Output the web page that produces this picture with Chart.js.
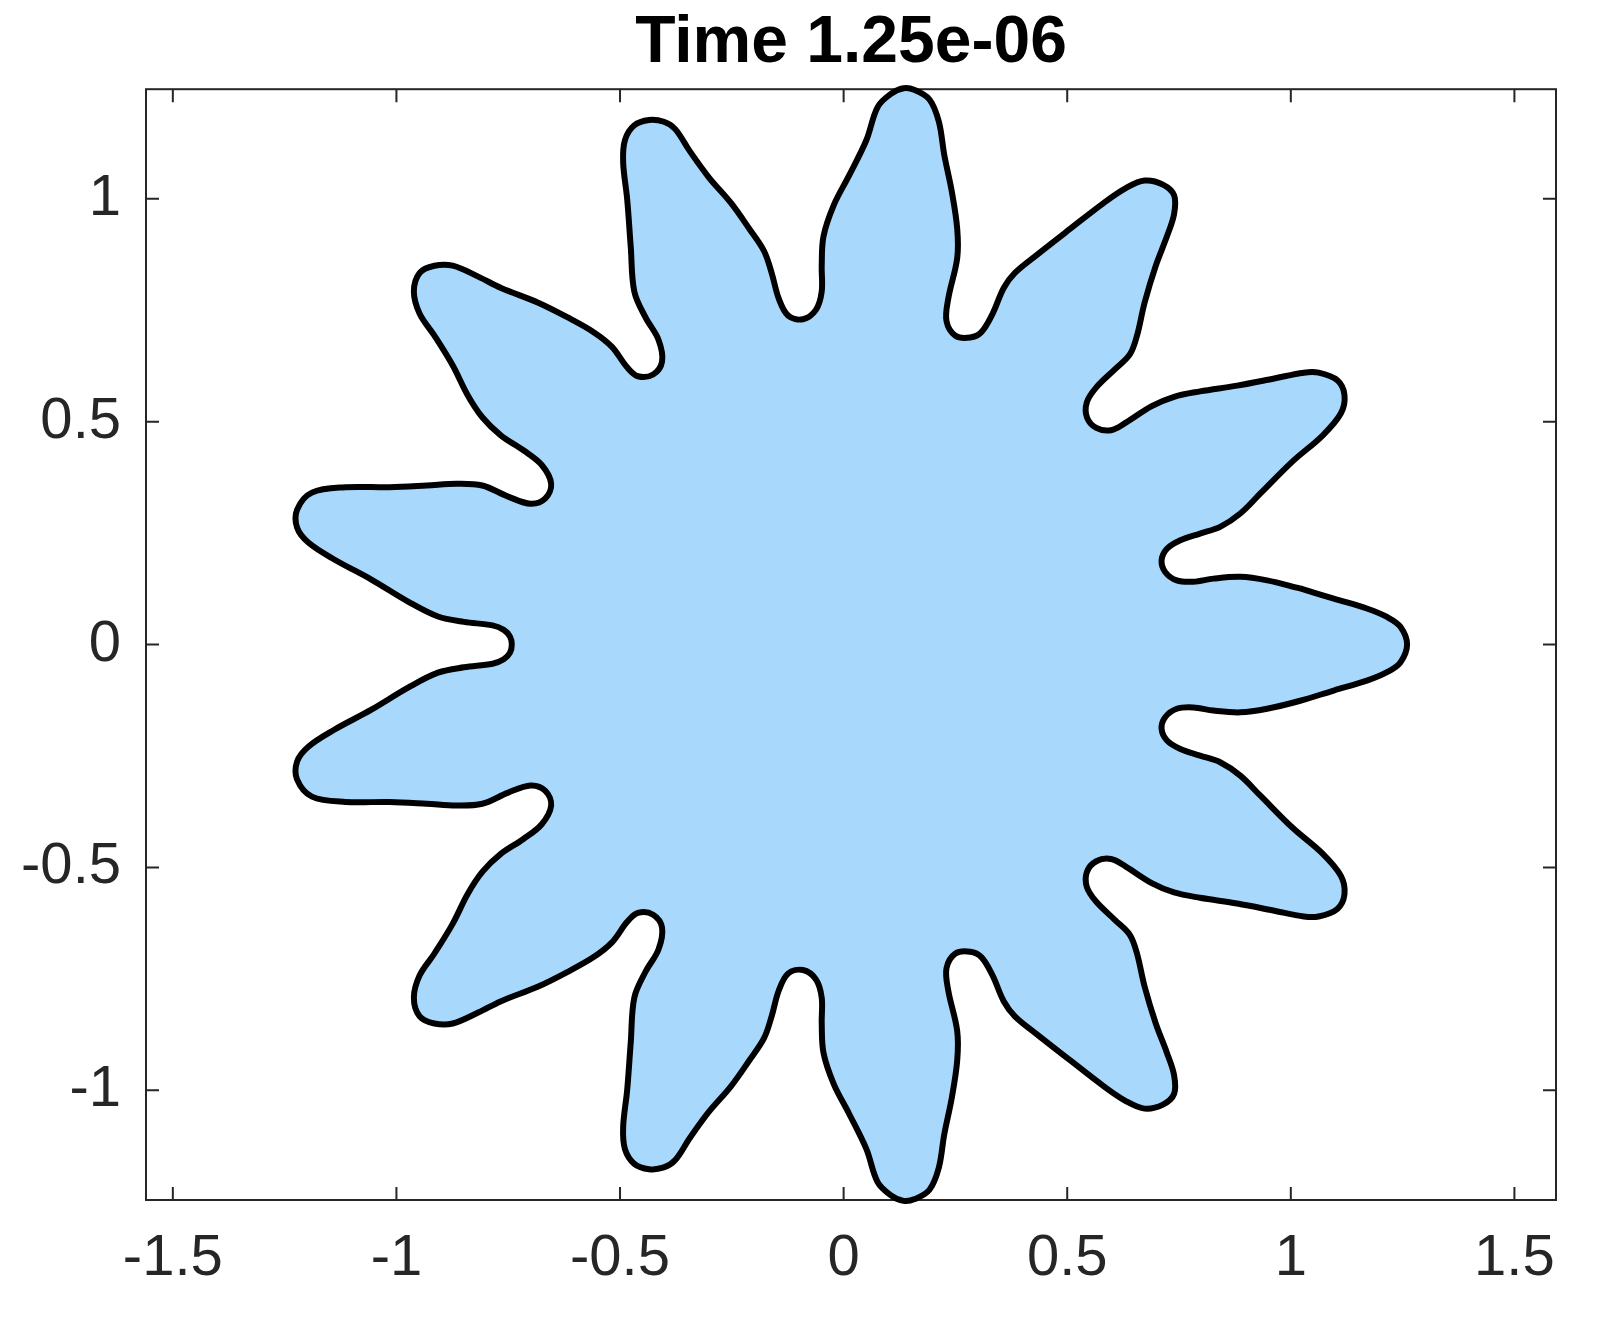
<!DOCTYPE html>
<html>
<head>
<meta charset="utf-8">
<title>Time 1.25e-06</title>
<script src="https://cdn.jsdelivr.net/npm/chart.js@4.4.1/dist/chart.umd.min.js"></script>
<style>
  html, body { margin: 0; padding: 0; background: #fff; }
  #wrap { width: 1604px; height: 1320px; position: relative; }
</style>
</head>
<body>
<div id="wrap"><canvas id="grafico"></canvas></div>
<script>
const titulo = 'Time 1.25e-06';
const xTicks = [-1.5, -1, -0.5, 0, 0.5, 1, 1.5];
const yTicks = [-1, -0.5, 0, 0.5, 1];
const xLimits = [-1.56, 1.593];
const yLimits = [-1.246, 1.246];

// contour, one array per arm (named by tip angle), counterclockwise
const arm0 = [[0.711,-0.189],[0.719,-0.163],[0.745,-0.144],[0.782,-0.141],[0.827,-0.148],[0.887,-0.152],[0.947,-0.144],[1.021,-0.126],[1.096,-0.103],[1.170,-0.081],[1.215,-0.062],[1.245,-0.040],[1.260,0.000],[1.245,0.040],[1.215,0.062],[1.170,0.081],[1.096,0.103],[1.021,0.126],[0.947,0.144],[0.887,0.152],[0.827,0.148],[0.782,0.141],[0.745,0.144],[0.719,0.163]];
const arm28 = [[0.711,0.189],[0.723,0.215],[0.753,0.234],[0.797,0.249],[0.842,0.264],[0.887,0.294],[0.932,0.339],[1.004,0.411],[1.071,0.469],[1.112,0.519],[1.120,0.560],[1.104,0.593],[1.062,0.610],[1.029,0.610],[0.963,0.597],[0.880,0.581],[0.797,0.568],[0.739,0.556],[0.689,0.535],[0.631,0.498],[0.598,0.481],[0.565,0.486]];
const arm55 = [[0.544,0.510],[0.544,0.544],[0.565,0.577],[0.607,0.618],[0.640,0.651],[0.656,0.693],[0.673,0.767],[0.698,0.850],[0.723,0.916],[0.739,0.966],[0.739,1.008],[0.714,1.032],[0.673,1.041],[0.631,1.024],[0.582,0.991],[0.507,0.933],[0.433,0.875],[0.383,0.834],[0.358,0.800],[0.333,0.742],[0.308,0.701]];
const arm83 = [[0.283,0.689],[0.250,0.693],[0.230,0.726],[0.234,0.776],[0.254,0.867],[0.254,0.933],[0.242,1.016],[0.225,1.099],[0.213,1.173],[0.192,1.223],[0.159,1.244],[0.134,1.248],[0.105,1.235],[0.076,1.206],[0.051,1.132],[0.012,1.052],[-0.022,0.986],[-0.045,0.916],[-0.049,0.850],[-0.049,0.792],[-0.062,0.751]];
const arm111 = [[-0.091,0.730],[-0.124,0.738],[-0.145,0.776],[-0.161,0.834],[-0.178,0.883],[-0.211,0.933],[-0.252,0.991],[-0.302,1.049],[-0.344,1.107],[-0.377,1.157],[-0.402,1.173],[-0.435,1.177],[-0.468,1.165],[-0.489,1.132],[-0.493,1.082],[-0.484,0.999],[-0.476,0.892],[-0.468,0.792],[-0.443,0.734],[-0.414,0.684],[-0.406,0.635]];
const arm138 = [[-0.426,0.606],[-0.460,0.602],[-0.484,0.622],[-0.518,0.668],[-0.559,0.701],[-0.617,0.734],[-0.683,0.767],[-0.766,0.800],[-0.816,0.825],[-0.874,0.850],[-0.915,0.850],[-0.948,0.834],[-0.961,0.792],[-0.948,0.742],[-0.915,0.693],[-0.874,0.626],[-0.841,0.560],[-0.808,0.510],[-0.766,0.469],[-0.716,0.436],[-0.675,0.403],[-0.654,0.361]];
const arm166 = [[-0.667,0.328],[-0.700,0.316],[-0.750,0.332],[-0.808,0.357],[-0.866,0.361],[-0.932,0.357],[-1.015,0.353],[-1.114,0.353],[-1.189,0.341],[-1.222,0.303],[-1.222,0.262],[-1.197,0.229],[-1.139,0.191],[-1.056,0.146],[-0.973,0.096],[-0.907,0.063],[-0.849,0.051],[-0.785,0.043],[-0.760,0.033],[-0.746,0.018]];
const arm194 = [[-0.742,0.000],[-0.746,-0.018],[-0.760,-0.033],[-0.785,-0.043],[-0.849,-0.051],[-0.907,-0.063],[-0.973,-0.096],[-1.056,-0.146],[-1.139,-0.191],[-1.197,-0.229],[-1.222,-0.262],[-1.222,-0.303],[-1.189,-0.341],[-1.114,-0.353],[-1.015,-0.353],[-0.932,-0.357],[-0.866,-0.361],[-0.808,-0.357],[-0.750,-0.332],[-0.700,-0.316]];
const arm222 = [[-0.667,-0.328],[-0.654,-0.361],[-0.675,-0.403],[-0.716,-0.436],[-0.766,-0.469],[-0.808,-0.510],[-0.841,-0.560],[-0.874,-0.626],[-0.915,-0.693],[-0.948,-0.742],[-0.961,-0.792],[-0.948,-0.834],[-0.915,-0.850],[-0.874,-0.850],[-0.816,-0.825],[-0.766,-0.800],[-0.683,-0.767],[-0.617,-0.734],[-0.559,-0.701],[-0.518,-0.668],[-0.484,-0.622],[-0.460,-0.602]];
const arm249 = [[-0.426,-0.606],[-0.406,-0.635],[-0.414,-0.684],[-0.443,-0.734],[-0.468,-0.792],[-0.476,-0.892],[-0.484,-0.999],[-0.493,-1.082],[-0.489,-1.132],[-0.468,-1.165],[-0.435,-1.177],[-0.402,-1.173],[-0.377,-1.157],[-0.344,-1.107],[-0.302,-1.049],[-0.252,-0.991],[-0.211,-0.933],[-0.178,-0.883],[-0.161,-0.834],[-0.145,-0.776],[-0.124,-0.738]];
const arm277 = [[-0.091,-0.730],[-0.062,-0.751],[-0.049,-0.792],[-0.049,-0.850],[-0.045,-0.916],[-0.022,-0.986],[0.012,-1.052],[0.051,-1.132],[0.076,-1.206],[0.105,-1.235],[0.134,-1.248],[0.159,-1.244],[0.192,-1.223],[0.213,-1.173],[0.225,-1.099],[0.242,-1.016],[0.254,-0.933],[0.254,-0.867],[0.234,-0.776],[0.230,-0.726],[0.250,-0.693]];
const arm305 = [[0.283,-0.689],[0.308,-0.701],[0.333,-0.742],[0.358,-0.800],[0.383,-0.834],[0.433,-0.875],[0.507,-0.933],[0.582,-0.991],[0.631,-1.024],[0.673,-1.041],[0.714,-1.032],[0.739,-1.008],[0.739,-0.966],[0.723,-0.916],[0.698,-0.850],[0.673,-0.767],[0.656,-0.693],[0.640,-0.651],[0.607,-0.618],[0.565,-0.577],[0.544,-0.544]];
const arm332 = [[0.544,-0.510],[0.565,-0.486],[0.598,-0.481],[0.631,-0.498],[0.689,-0.535],[0.739,-0.556],[0.797,-0.568],[0.880,-0.581],[0.963,-0.597],[1.029,-0.610],[1.062,-0.610],[1.104,-0.593],[1.120,-0.560],[1.112,-0.519],[1.071,-0.469],[1.004,-0.411],[0.932,-0.339],[0.887,-0.294],[0.842,-0.264],[0.797,-0.249],[0.753,-0.234],[0.723,-0.215]];

const brazos = [arm0, arm28, arm55, arm83, arm111, arm138, arm166, arm194, arm222, arm249, arm277, arm305, arm332];
const inicio = 17; // start on the flank of the right arm, so the closing joint stays smooth

let puntos = [];
brazos.forEach(b => b.forEach(p => puntos.push({x: p[0], y: p[1]})));
puntos = puntos.slice(inicio).concat(puntos.slice(0, inicio + 1));

const fuente = "'Liberation Sans', Arial, Helvetica, sans-serif";
const gris = '#262626';

// axes box with inward ticks, matlab style
const marco = {
  id: 'marco',
  beforeDatasetsDraw(chart) {
    const {ctx, chartArea: a, scales} = chart;
    const largo = 13;
    ctx.save();
    ctx.strokeStyle = gris;
    ctx.lineWidth = 2;
    ctx.strokeRect(a.left, a.top, a.right - a.left, a.bottom - a.top);
    ctx.beginPath();
    xTicks.forEach(v => {
      const px = scales.x.getPixelForValue(v);
      ctx.moveTo(px, a.bottom); ctx.lineTo(px, a.bottom - largo);
      ctx.moveTo(px, a.top); ctx.lineTo(px, a.top + largo);
    });
    yTicks.forEach(v => {
      const py = scales.y.getPixelForValue(v);
      ctx.moveTo(a.left, py); ctx.lineTo(a.left + largo, py);
      ctx.moveTo(a.right, py); ctx.lineTo(a.right - largo, py);
    });
    ctx.stroke();
    ctx.restore();
  }
};

new Chart(document.getElementById('grafico'), {
  type: 'scatter',
  data: {
    datasets: [{
      data: puntos,
      showLine: true,
      tension: 0.35,
      fill: 'shape',
      backgroundColor: '#a8d9fd',
      borderColor: '#000',
      borderWidth: 6,
      borderJoinStyle: 'round',
      pointRadius: 0,
      pointHoverRadius: 0,
      clip: 6
    }]
  },
  options: {
    responsive: true,
    maintainAspectRatio: false,
    animation: false,
    layout: {padding: {left: 0, right: 48, top: 0, bottom: 0}},
    plugins: {
      legend: {display: false},
      tooltip: {enabled: false},
      title: {
        display: true,
        fullSize: false,
        text: titulo,
        color: '#000',
        font: {family: fuente, size: 66, weight: 'bold'},
        padding: {top: 4, bottom: 6}
      }
    },
    scales: {
      x: {
        type: 'linear',
        min: xLimits[0],
        max: xLimits[1],
        afterBuildTicks: s => { s.ticks = xTicks.map(v => ({value: v})); },
        afterFit: s => { s.height = 120; },
        grid: {display: false, drawTicks: false},
        border: {display: false},
        ticks: {padding: 24, color: gris, autoSkip: false, maxRotation: 0, font: {family: fuente, size: 58}, callback: v => String(v)}
      },
      y: {
        type: 'linear',
        min: yLimits[0],
        max: yLimits[1],
        afterBuildTicks: s => { s.ticks = yTicks.map(v => ({value: v})); },
        afterFit: s => { s.width = 146; },
        grid: {display: false, drawTicks: false},
        border: {display: false},
        ticks: {padding: 25, color: gris, autoSkip: false, font: {family: fuente, size: 58}, callback: v => String(v)}
      }
    }
  },
  plugins: [marco]
});
</script>
</body>
</html>
